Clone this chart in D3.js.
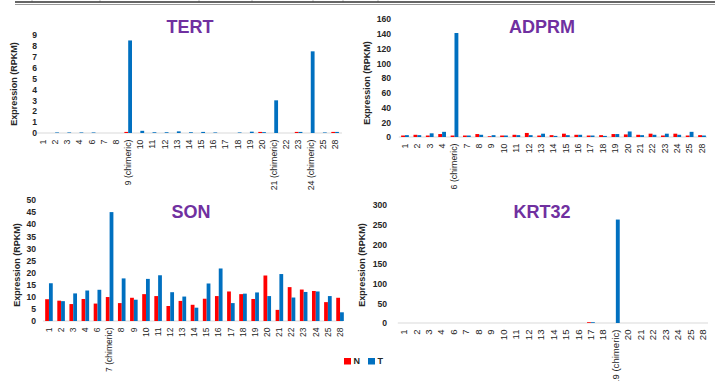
<!DOCTYPE html>
<html>
<head>
<meta charset="utf-8">
<script src="https://cdn.jsdelivr.net/npm/d3@7"></script>
<style>
  body { margin: 0; background: #fff; }
  svg { font-family: "Liberation Sans", Arial, sans-serif; }
  .ylab { font-size: 8.6px; font-weight: bold; fill: #262626; }
  .xlab { fill: #262626; }
  .ytitle { font-size: 9px; font-weight: bold; fill: #262626; }
  .title { font-size: 18px; font-weight: bold; fill: #7030a0; }
</style>
</head>
<body>
<div id="chart"></div>
<script>
const width = 715
const height = 381
const colorN = "#ff0000"
const colorT = "#0070c0"

// TERT
const tertCats = ["1","2","3","4","6","7","8","9 (chimeric)","10","11","12","13","14","15","16","17","18","19","20","21 (chimeric)","22","23","24 (chimeric)","25","28"]
const tertN = [0,0,0,0,0,0,0,0.1,0,0,0,0,0,0,0,0,0,0,0.1,0,0,0.1,0,0,0.1]
const tertT = [0,0.05,0.05,0.05,0.05,0,0,8.5,0.2,0.07,0.07,0.15,0.07,0.1,0.05,0,0.05,0.12,0.08,3.0,0,0.1,7.5,0.05,0.1]
const tertTicks = [0,1,2,3,4,5,6,7,8,9]

// ADPRM
const adprmCats = ["1","2","3","4","6 (chimeric)","7","8","9","10","11","12","13","14","15","16","17","18","19","20","21","22","23","24","25","28"]
const adprmN = [2,3,2,4,2,2,4,1,2,3,5.5,2,2.5,4.5,3,2,2.5,4,3.5,3,4.5,2,4.5,2,2.5]
const adprmT = [2.5,2.5,5,7,141,2,3,2.5,2,2.5,2.5,4.5,1.5,2.5,3,2,1.5,4,7.5,2.5,3,4.5,3,7,2]
const adprmTicks = [0,20,40,60,80,100,120,140,160]

// SON
const sonCats = ["1","2","3","4","6","7 (chimeric)","8","9","10","11","12","13","14","15","16","17","18","19","20","21","22","23","24","25","28"]
const sonN = [9,8.4,7,9.1,7.2,9.9,7.4,9.6,11.1,10.3,6.2,8.3,6.7,9.2,10.3,12.2,11.1,9.1,18.8,4.6,14,13,12.4,7.8,9.6]
const sonT = [15.6,8.2,11.4,12.6,12.9,45,17.6,8.8,17.4,18.9,11.9,10.1,5.5,15.5,21.7,7.4,11.3,11.8,10.3,19.4,9.7,12,12.2,10.3,3.6]
const sonTicks = [0,5,10,15,20,25,30,35,40,45,50]

// KRT32
const krtCats = ["1","2","3","4","6","7","8","9","10","11","12","13","14","15","16","17","18","19 (chimeric)","20","21","22","23","24","25","28"]
const krtN = [0,0,0,0,0,0,0,0,0,0,0,0,0,0,0,2,0,0,0,0,0,0,0,0,0]
const krtT = [0,0,0,0,0,0,0,0,0,0,0,0,0,0,0,2,0,263,0,0,0,0,0,0,0]
const krtTicks = [0,50,100,150,200,250,300]

const legendKeys = ["N", "T"]

const svg = d3.select("#chart").append("svg")
  .attr("width", width)
  .attr("height", height)

// border lines of the table above the figure
const tableCols = [32, 100, 199, 252, 313, 343, 378]
svg.selectAll("line.col").data(tableCols).enter().append("line")
  .attr("x1", d => d).attr("x2", d => d)
  .attr("y1", 0).attr("y2", 2)
  .attr("stroke", "#bbb")
svg.append("line").attr("x1", 15).attr("x2", width).attr("y1", 2).attr("y2", 2)
  .attr("stroke", "#333").attr("stroke-width", 1.5)
svg.append("line").attr("x1", 15).attr("x2", width).attr("y1", 4.5).attr("y2", 4.5)
  .attr("stroke", "#999").attr("stroke-width", 1)

const drawPanel = (p) => {
  const x = d3.scaleBand().domain(p.cats).range([p.x0, p.x1])
  const sub = d3.scaleBand().domain(legendKeys).range([0, x.bandwidth()]).paddingOuter(0.6)
  const y = d3.scaleLinear().domain([0, p.ticks[p.ticks.length - 1]]).range([p.base, p.top])

  const g = svg.append("g")

  // baseline
  g.append("line")
    .attr("x1", p.x0).attr("x2", p.axisEnd)
    .attr("y1", p.base).attr("y2", p.base)
    .attr("stroke", "#d9d9d9").attr("stroke-width", 1)

  const rows = p.cats.map((c, i) => ({cat: c, N: p.n[i], T: p.t[i]}))

  const groups = g.selectAll("g.grp").data(rows).enter().append("g")
    .attr("transform", d => "translate(" + x(d.cat) + ",0)")

  groups.selectAll("rect")
    .data(d => legendKeys.map(k => ({key: k, value: d[k]})))
    .enter().append("rect")
    .attr("x", d => sub(d.key))
    .attr("width", sub.bandwidth())
    .attr("y", d => y(d.value))
    .attr("height", d => p.base - y(d.value))
    .attr("fill", d => d.key === "N" ? colorN : colorT)

  // y axis labels
  const yAxis = d3.axisLeft(y).tickValues(p.ticks).tickSize(0).tickPadding(0)
  const ya = g.append("g")
    .attr("transform", "translate(" + p.ylx + ",0)")
    .call(yAxis)
  ya.select(".domain").remove()
  ya.selectAll("text").attr("class", "ylab").attr("fill", null)

  // x axis labels
  const xAxis = d3.axisBottom(x).tickSize(0).tickPadding(0)
  const xa = g.append("g")
    .attr("transform", "translate(0," + (p.base + 6.5) + ")")
    .call(xAxis)
  xa.select(".domain").remove()
  xa.selectAll("text")
    .attr("class", "xlab").attr("fill", null)
    .attr("font-size", p.xFont + "px")
    .attr("transform", "rotate(-90)")
    .attr("text-anchor", "end")
    .attr("x", 0).attr("y", 0).attr("dy", "0.32em")

  svg.append("text")
    .attr("class", "ytitle")
    .attr("text-anchor", "middle")
    .attr("transform", "translate(" + p.ytx + "," + p.yty + ") rotate(-90)")
    .attr("dy", "0.35em")
    .text("Expression (RPKM)")

  svg.append("text")
    .attr("class", "title")
    .attr("text-anchor", "middle")
    .attr("x", p.tx).attr("y", p.ty)
    .attr("dy", "0.35em")
    .text(p.name)
}

drawPanel({name: "TERT", cats: tertCats, n: tertN, t: tertT, ticks: tertTicks, xFont: 8.8,
  x0: 36.9, x1: 341.2, axisEnd: 342, base: 133, top: 35, ylx: 37, ytx: 14, yty: 84, tx: 190, ty: 27})
drawPanel({name: "ADPRM", cats: adprmCats, n: adprmN, t: adprmT, ticks: adprmTicks, xFont: 8.8,
  x0: 398.8, x1: 708.2, axisEnd: 707, base: 137, top: 19, ylx: 391, ytx: 367, yty: 83, tx: 542, ty: 27})
drawPanel({name: "SON", cats: sonCats, n: sonN, t: sonT, ticks: sonTicks, xFont: 8.5,
  x0: 42.9, x1: 346.1, axisEnd: 343, base: 321, top: 200, ylx: 36, ytx: 17, yty: 265, tx: 191, ty: 212})
drawPanel({name: "KRT32", cats: krtCats, n: krtN, t: krtT, ticks: krtTicks, xFont: 9.6,
  x0: 397.8, x1: 709.3, axisEnd: 708, base: 323, top: 205, ylx: 387, ytx: 362, yty: 265, tx: 542, ty: 212})

// legend
const legend = svg.append("g").attr("transform", "translate(344,358)")
const items = legend.selectAll("g").data(legendKeys).enter().append("g")
  .attr("transform", (d, i) => "translate(" + (i * 24) + ",0)")
items.append("rect").attr("width", 7).attr("height", 6.5)
  .attr("fill", d => d === "N" ? colorN : colorT)
items.append("text").attr("x", 9.5).attr("y", 3.3).attr("dy", "0.35em")
  .attr("font-size", "9px").attr("font-weight", "bold").attr("fill", "#262626")
  .text(d => d)
</script>
</body>
</html>
